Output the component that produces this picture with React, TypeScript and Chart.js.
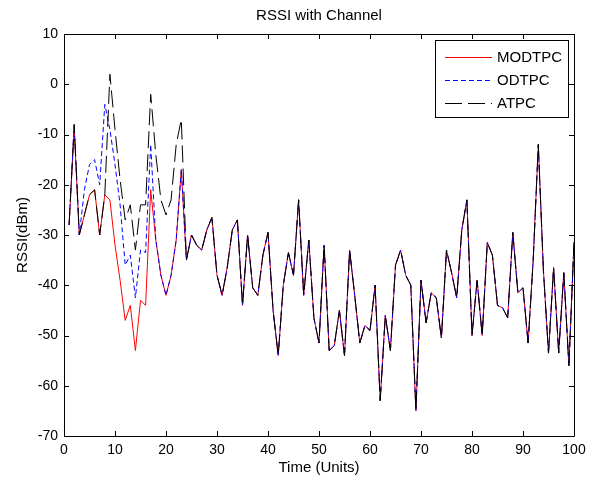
import React, { useEffect, useRef } from 'react';
import { Chart, registerables } from 'chart.js';

Chart.register(...registerables);

const chartTitle = 'RSSI with Channel';
const xTitle = 'Time (Units)';
const yTitle = 'RSSI(dBm)';
const xTickValues = [0, 10, 20, 30, 40, 50, 60, 70, 80, 90, 100];
const yTickValues = [-70, -60, -50, -40, -30, -20, -10, 0, 10];

const seriesNames = ['MODTPC', 'ODTPC', 'ATPC'];

// Time units 1..100
const timeUnits = [
  1, 2, 3, 4, 5, 6, 7, 8, 9, 10, 11, 12, 13, 14, 15, 16, 17, 18, 19, 20,
  21, 22, 23, 24, 25, 26, 27, 28, 29, 30, 31, 32, 33, 34, 35, 36, 37, 38, 39, 40,
  41, 42, 43, 44, 45, 46, 47, 48, 49, 50, 51, 52, 53, 54, 55, 56, 57, 58, 59, 60,
  61, 62, 63, 64, 65, 66, 67, 68, 69, 70, 71, 72, 73, 74, 75, 76, 77, 78, 79, 80,
  81, 82, 83, 84, 85, 86, 87, 88, 89, 90, 91, 92, 93, 94, 95, 96, 97, 98, 99, 100,
];

// t = 1..23 differ per series
const modtpcStart = [-28, -9, -30, -26, -22, -21, -30, -22, -23, -32, -39, -47, -44, -53, -43, -44, -21, -31, -38, -42, -38, -31, -17];
const odtpcStart = [-28, -8, -30, -21, -16, -15, -20, -4, -9, -16, -24, -36, -34, -42.5, -33, -33.5, -12, -31, -38, -42, -38, -31, -17];
const atpcStart = [-28, -8, -30, -26, -22, -21, -30, -22, 2, -9, -19, -27, -24, -33, -24, -24, -2, -14, -23, -26, -23, -12, -7];

// t = 24..100 shared by all three series
const sharedTail = [
  -35, -30, -32, -33, -29, -26.5, -38, -42, -36.5, -29, -27, -44, -30, -40.5, -42, -34, -29.5,
  -45, -54, -40, -33.5, -38, -23, -42, -31, -46.5, -51.5, -32, -53, -52, -45, -54, -33,
  -42, -51.5, -48, -49, -40, -63, -46, -53, -36, -33, -38, -40, -65, -39, -47.5, -41.5,
  -42.5, -50.5, -33, -37.5, -42.5, -29, -23, -50, -39, -50, -31.5, -34, -44, -44.5, -46.5,
  -29.5, -41.5, -40.5, -51.5, -35, -12, -37, -53.5, -36.5, -53.5, -37.5, -56, -31.5,
];

const modtpc = [...modtpcStart, ...sharedTail];
const odtpc = [...odtpcStart, ...sharedTail];
const atpc = [...atpcStart, ...sharedTail];

const FONT = "'Liberation Sans', Arial, Helvetica, sans-serif";

const framePlugin = {
  id: 'matlabFrame',
  afterDatasetsDraw(chart: any) {
    const { ctx, chartArea } = chart;
    const { left, right, top, bottom } = chartArea;
    const xs = chart.scales.x;
    const ys = chart.scales.y;
    ctx.save();
    ctx.strokeStyle = '#000';
    ctx.lineWidth = 1;
    ctx.beginPath();
    ctx.rect(Math.round(left) + 0.5, Math.round(top) + 0.5, Math.round(right - left), Math.round(bottom - top));
    ctx.stroke();
    const tl = 5;
    ctx.beginPath();
    xTickValues.forEach((v) => {
      const px = Math.round(xs.getPixelForValue(v)) + 0.5;
      ctx.moveTo(px, bottom);
      ctx.lineTo(px, bottom - tl);
      ctx.moveTo(px, top);
      ctx.lineTo(px, top + tl);
    });
    yTickValues.forEach((v) => {
      const py = Math.round(ys.getPixelForValue(v)) + 0.5;
      ctx.moveTo(left, py);
      ctx.lineTo(left + tl, py);
      ctx.moveTo(right, py);
      ctx.lineTo(right - tl, py);
    });
    ctx.stroke();
    // title
    ctx.fillStyle = '#000';
    ctx.font = `15px ${FONT}`;
    ctx.textAlign = 'center';
    ctx.textBaseline = 'middle';
    ctx.fillText(chartTitle, (left + right) / 2, 16);
    ctx.restore();
  },
  afterDraw(chart: any) {
    const { ctx, chartArea } = chart;
    const bx = 435;
    const by = 40;
    const bw = chartArea.right - 6 - bx;
    const bh = 77;
    ctx.save();
    ctx.fillStyle = '#fff';
    ctx.fillRect(bx, by, bw, bh);
    ctx.strokeStyle = '#000';
    ctx.lineWidth = 1;
    ctx.strokeRect(bx + 0.5, by + 0.5, bw, bh);
    ctx.font = `15px ${FONT}`;
    ctx.textAlign = 'left';
    ctx.textBaseline = 'middle';
    chart.data.datasets.forEach((ds: any, i: number) => {
      const ry = Math.round(by + 17 + i * 23) + 0.5;
      ctx.strokeStyle = ds.borderColor;
      ctx.setLineDash(ds.borderDash || []);
      ctx.beginPath();
      ctx.moveTo(bx + 10, ry);
      ctx.lineTo(bx + 57, ry);
      ctx.stroke();
      ctx.setLineDash([]);
      ctx.fillStyle = '#000';
      ctx.fillText(ds.label, bx + 62, ry);
    });
    ctx.restore();
  },
};

export default function App() {
  const ref = useRef<HTMLCanvasElement | null>(null);

  useEffect(() => {
    document.body.style.margin = '0';
    const canvas = ref.current;
    if (!canvas) return;
    const toPoints = (arr: number[]) => arr.map((v, i) => ({ x: timeUnits[i], y: v }));
    const chart = new Chart(canvas, {
      type: 'line',
      data: {
        datasets: [
          {
            label: seriesNames[0],
            data: toPoints(modtpc),
            borderColor: '#ff0000',
            borderWidth: 1,
            pointRadius: 0,
            tension: 0,
            order: 3,
          },
          {
            label: seriesNames[1],
            data: toPoints(odtpc),
            borderColor: '#0000ff',
            borderWidth: 1,
            borderDash: [5, 3],
            pointRadius: 0,
            tension: 0,
            order: 2,
          },
          {
            label: seriesNames[2],
            data: toPoints(atpc),
            borderColor: '#000000',
            borderWidth: 1,
            borderDash: [17, 6],
            pointRadius: 0,
            tension: 0,
            order: 1,
          },
        ],
      },
      options: {
        responsive: false,
        animation: false,
        events: [],
        layout: { padding: { top: 34, right: 15, bottom: 0, left: 0 } },
        plugins: {
          legend: { display: false },
          title: { display: false },
          tooltip: { enabled: false },
        },
        scales: {
          x: {
            type: 'linear',
            min: 0,
            max: 100,
            afterBuildTicks: (s: any) => {
              s.ticks = xTickValues.map((v) => ({ value: v }));
            },
            ticks: {
              color: '#000',
              font: { family: FONT, size: 14 },
              padding: 6,
              maxRotation: 0,
              autoSkip: false,
            },
            grid: { display: false, drawTicks: false },
            border: { display: false },
            title: {
              display: true,
              text: xTitle,
              color: '#000',
              font: { family: FONT, size: 15 },
              padding: { top: 0, bottom: 5 },
            },
            afterFit: (s: any) => {
              s.height = 46;
              s.paddingLeft = 0;
              s.paddingRight = 0;
            },
          },
          y: {
            type: 'linear',
            min: -70,
            max: 10,
            afterBuildTicks: (s: any) => {
              s.ticks = yTickValues.map((v) => ({ value: v }));
            },
            ticks: {
              color: '#000',
              font: { family: FONT, size: 14 },
              padding: 6,
              autoSkip: false,
            },
            grid: { display: false, drawTicks: false },
            border: { display: false },
            title: {
              display: true,
              text: yTitle,
              color: '#000',
              font: { family: FONT, size: 15 },
              padding: { top: 14, bottom: 0 },
            },
            afterFit: (s: any) => {
              s.width = 64;
              s.paddingTop = 0;
              s.paddingBottom = 0;
            },
          },
        },
      },
      plugins: [framePlugin],
    } as any);
    return () => chart.destroy();
  }, []);

  return (
    <div style={{ width: 589, height: 482, background: '#fff' }}>
      <canvas ref={ref} width={589} height={482} style={{ display: 'block' }} />
    </div>
  );
}
